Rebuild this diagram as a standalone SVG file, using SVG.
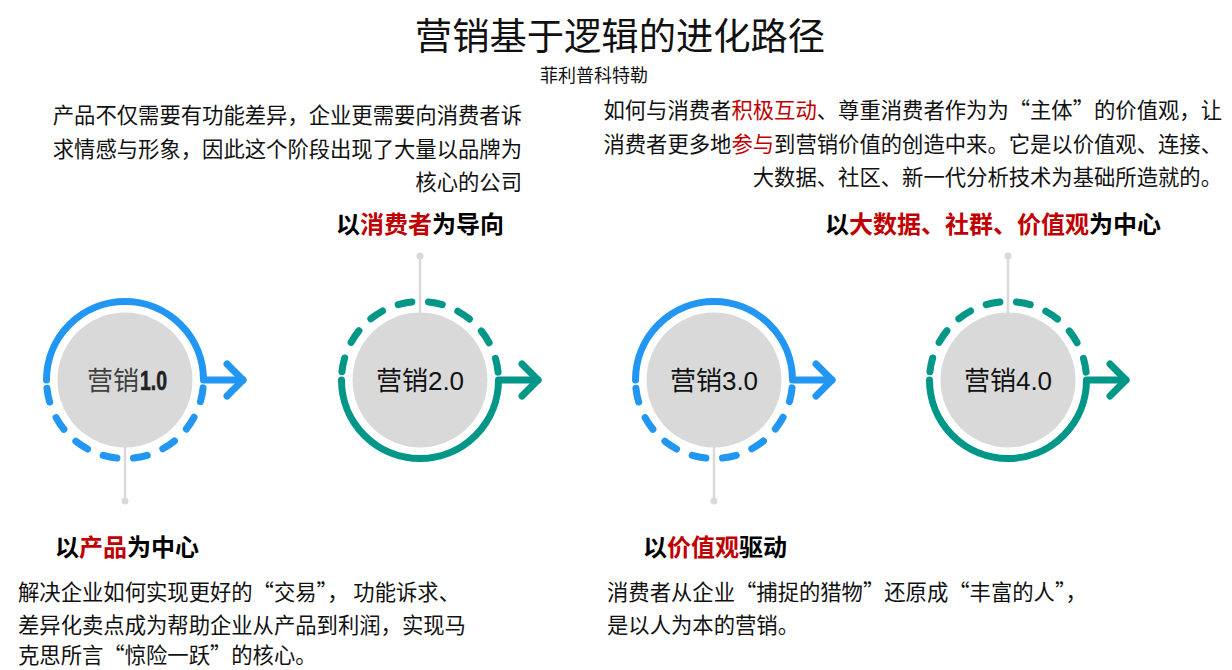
<svg xmlns="http://www.w3.org/2000/svg" width="1232" height="670" viewBox="0 0 1232 670">
<style>
  text { font-family: "Liberation Sans", "Noto Sans CJK SC", sans-serif; fill: #111; }
  .title { font-size: 37.3px; }
  .sub { font-size: 18px; }
  .p { font-size: 21.33px; font-family: "Noto Sans CJK SC", sans-serif; }
  .h { font-size: 24px; font-weight: bold; fill: #000; }
  .red { fill: #C00000; }
  .lbl { font-size: 26px; }
  .gray { fill: #D9D9D9; }
  .stem { stroke: #D9D9D9; stroke-width: 2.5; fill: none; }
  .dot { fill: #D9D9D9; }
  .ring { fill: none; stroke-width: 7; stroke-linecap: round; stroke-linejoin: round; }
  .dash { stroke-dasharray: 14 16.83; stroke-dashoffset: -8.4; }
  .blue { stroke: #2196F3; }
  .teal { stroke: #009688; }
</style>
<rect width="1232" height="670" fill="#fff"/>

<g id="title">
  <text class="title" x="620" y="50" text-anchor="middle">营销基于逻辑的进化路径</text>
  <text class="sub" x="594" y="82" text-anchor="middle">菲利普科特勒</text>
</g>

<g id="connectors">
  <line class="stem" x1="125" y1="445" x2="125" y2="501"/>
  <circle class="dot" cx="125" cy="501" r="3.5"/>
  <line class="stem" x1="420" y1="256" x2="420" y2="315"/>
  <circle class="dot" cx="420" cy="256" r="3.5"/>
  <line class="stem" x1="714" y1="445" x2="714" y2="501"/>
  <circle class="dot" cx="714" cy="501" r="3.5"/>
  <line class="stem" x1="1008" y1="256" x2="1008" y2="315"/>
  <circle class="dot" cx="1008" cy="256" r="3.5"/>
</g>

<g id="node1">
  <circle class="gray" cx="125" cy="380" r="67.5"/>
  <path class="ring blue" d="M46.5,380 A78.5,78.5 0 0 1 203.5,380 H243"/>
  <path class="ring blue" d="M227,364 L243,380 L227,396"/>
  <path class="ring blue dash" d="M46.5,380 A78.5,78.5 0 0 0 203.5,380"/>
  <text class="lbl" x="139" y="390" text-anchor="end" style="fill:#404040">营销</text>
  <text x="140" y="390" font-size="28" font-weight="bold" textLength="27" lengthAdjust="spacingAndGlyphs" style="fill:#222;stroke:#222;stroke-width:0.6">1.0</text>
</g>

<g id="node2">
  <circle class="gray" cx="420" cy="380" r="67.5"/>
  <path class="ring teal" d="M341.5,380 A78.5,78.5 0 0 0 498.5,380 H538"/>
  <path class="ring teal" d="M522,364 L538,380 L522,396"/>
  <path class="ring teal dash" d="M341.5,380 A78.5,78.5 0 0 1 498.5,380"/>
  <text class="lbl" x="420" y="390" text-anchor="middle">营销2.0</text>
</g>

<g id="node3">
  <circle class="gray" cx="714" cy="380" r="67.5"/>
  <path class="ring blue" d="M635.5,380 A78.5,78.5 0 0 1 792.5,380 H832"/>
  <path class="ring blue" d="M816,364 L832,380 L816,396"/>
  <path class="ring blue dash" d="M635.5,380 A78.5,78.5 0 0 0 792.5,380"/>
  <text class="lbl" x="714" y="390" text-anchor="middle">营销3.0</text>
</g>

<g id="node4">
  <circle class="gray" cx="1008" cy="380" r="67.5"/>
  <path class="ring teal" d="M929.5,380 A78.5,78.5 0 0 0 1086.5,380 H1126"/>
  <path class="ring teal" d="M1110,364 L1126,380 L1110,396"/>
  <path class="ring teal dash" d="M929.5,380 A78.5,78.5 0 0 1 1086.5,380"/>
  <text class="lbl" x="1008" y="390" text-anchor="middle">营销4.0</text>
</g>

<g id="stage2-text">
  <text class="p" x="522" y="123" text-anchor="end">产品不仅需要有功能差异，企业更需要向消费者诉</text>
  <text class="p" x="522" y="157" text-anchor="end">求情感与形象，因此这个阶段出现了大量以品牌为</text>
  <text class="p" x="522" y="190" text-anchor="end">核心的公司</text>
  <text class="h" x="420" y="233" text-anchor="middle">以<tspan class="red">消费者</tspan>为导向</text>
</g>

<g id="stage4-text">
  <text class="p" x="1222" y="118" text-anchor="end">如何与消费者<tspan class="red">积极互动</tspan>、尊重消费者作为为“主体”的价值观，让</text>
  <text class="p" x="1222" y="152" text-anchor="end">消费者更多地<tspan class="red">参与</tspan>到营销价值的创造中来。它是以价值观、连接、</text>
  <text class="p" x="1222" y="185" text-anchor="end">大数据、社区、新一代分析技术为基础所造就的。</text>
  <text class="h" x="993" y="233" text-anchor="middle">以<tspan class="red">大数据、社群、价值观</tspan>为中心</text>
</g>

<g id="stage1-text">
  <text class="h" x="55" y="556">以<tspan class="red">产品</tspan>为中心</text>
  <text class="p" x="18" y="600">解决企业如何实现更好的“交易”， 功能诉求、</text>
  <text class="p" x="18" y="633">差异化卖点成为帮助企业从产品到利润，实现马</text>
  <text class="p" x="18" y="663">克思所言“惊险一跃”的核心。</text>
</g>

<g id="stage3-text">
  <text class="h" x="643" y="556">以<tspan class="red">价值观</tspan>驱动</text>
  <text class="p" x="607" y="600">消费者从企业“捕捉的猎物”还原成“丰富的人”，</text>
  <text class="p" x="607" y="633">是以人为本的营销。</text>
</g>
</svg>
